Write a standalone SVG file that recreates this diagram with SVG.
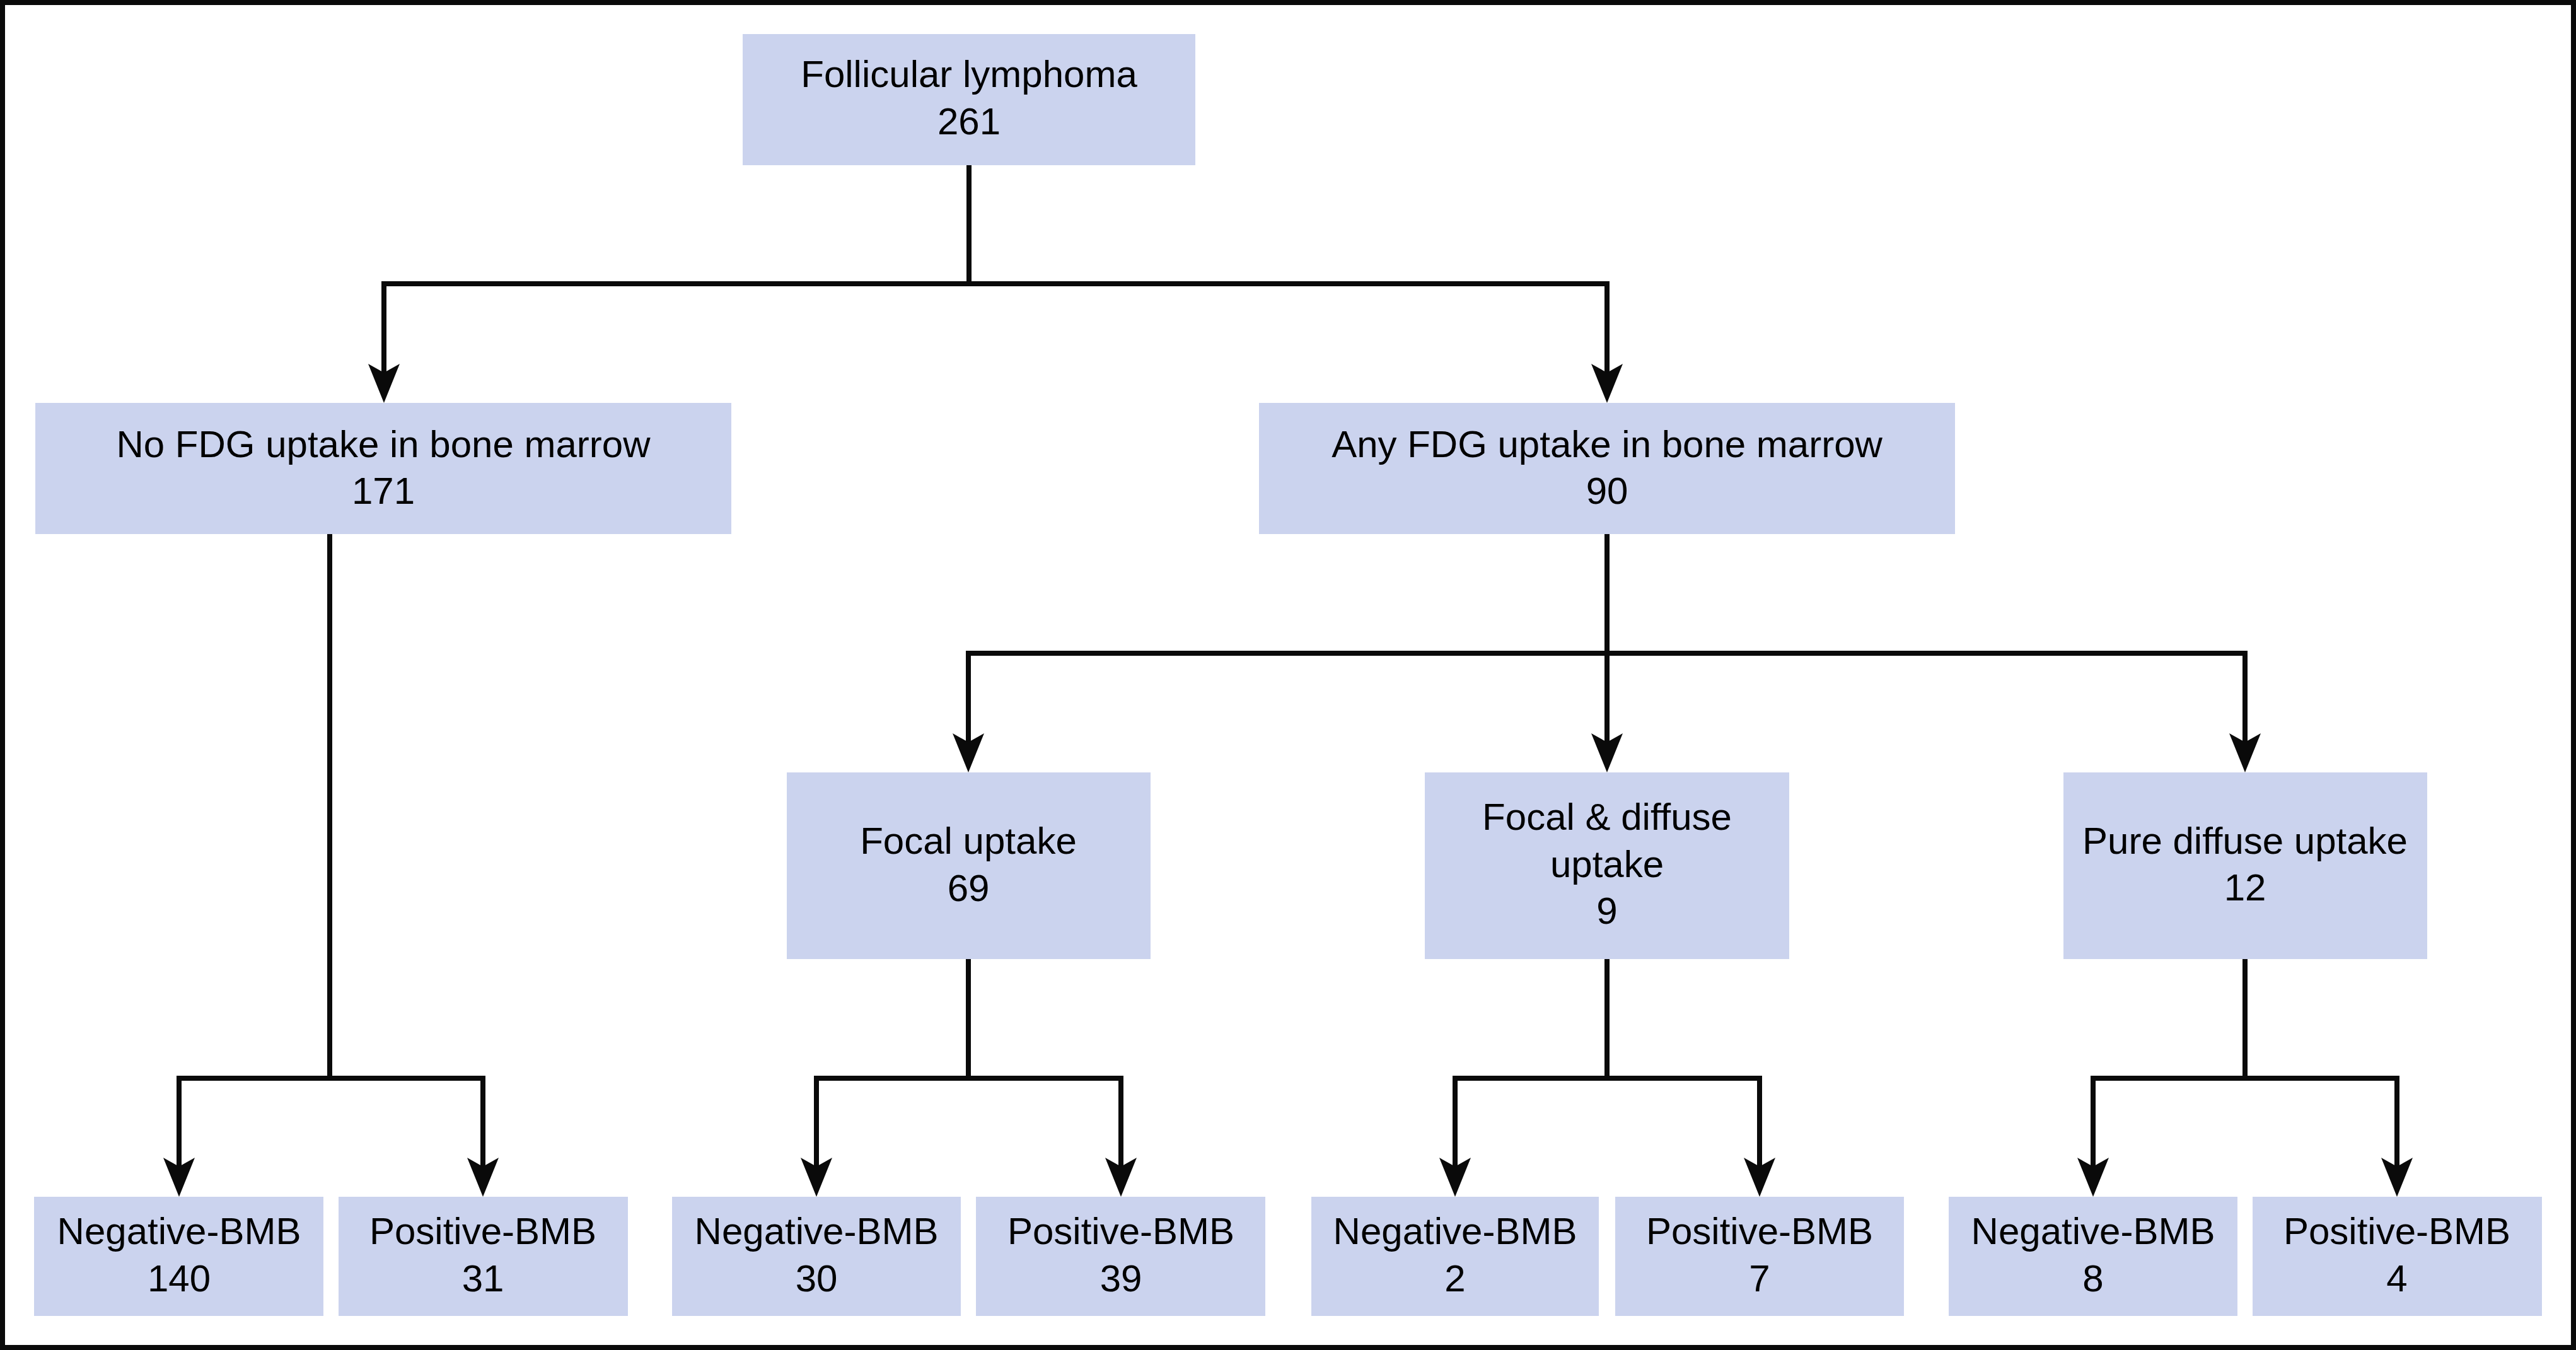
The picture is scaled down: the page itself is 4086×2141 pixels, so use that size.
<svg xmlns="http://www.w3.org/2000/svg" width="4086" height="2141" viewBox="0 0 4086 2141">
<style>
.box{fill:#cbd3ee}
.t{font-family:"Liberation Sans",Arial,Helvetica,sans-serif;font-size:60px;fill:#000;text-anchor:middle}
.c{fill:none;stroke:#0a0a0a;stroke-width:8}
.h{stroke-linecap:square}
.a{marker-end:url(#ah)}
</style>
<defs>
<marker id="ah" markerUnits="userSpaceOnUse" markerWidth="62" markerHeight="50" viewBox="0 0 62 50" refX="18" refY="25" orient="auto">
<path d="M0,0 L62,25 L0,50 L14,25 Z" fill="#0a0a0a"/>
</marker>
</defs>
<rect x="0" y="0" width="4086" height="2141" fill="#fff"/>
<rect x="4" y="4" width="4078" height="2133" fill="none" stroke="#0a0a0a" stroke-width="8"/>
<g id="connectors">
<path class="c" d="M1537,262 V450"/>
<path class="c h" d="M609,450 H2549"/>
<path class="c a" d="M609,450 V595"/>
<path class="c a" d="M2549,450 V595"/>
<path class="c" d="M2549,847 V1036"/>
<path class="c h" d="M1536,1036 H3561"/>
<path class="c a" d="M1536,1036 V1181"/>
<path class="c a" d="M2549,1036 V1181"/>
<path class="c a" d="M3561,1036 V1181"/>
<path class="c" d="M523,847 V1710"/>
<path class="c h" d="M284,1710 H766"/>
<path class="c a" d="M284,1710 V1854"/>
<path class="c a" d="M766,1710 V1854"/>
<path class="c" d="M1536,1521 V1710"/>
<path class="c h" d="M1295,1710 H1778"/>
<path class="c a" d="M1295,1710 V1854"/>
<path class="c a" d="M1778,1710 V1854"/>
<path class="c" d="M2549,1521 V1710"/>
<path class="c h" d="M2308,1710 H2791"/>
<path class="c a" d="M2308,1710 V1854"/>
<path class="c a" d="M2791,1710 V1854"/>
<path class="c" d="M3561,1520 V1710"/>
<path class="c h" d="M3320,1710 H3802"/>
<path class="c a" d="M3320,1710 V1854"/>
<path class="c a" d="M3802,1710 V1854"/>
</g>
<g id="root"><rect class="box" x="1178" y="54" width="718" height="208"/><text class="t" x="1537" y="138">Follicular lymphoma</text><text class="t" x="1537" y="213">261</text></g>
<g id="noFDG"><rect class="box" x="56" y="639" width="1104" height="208"/><text class="t" x="608" y="725">No FDG uptake in bone marrow</text><text class="t" x="608" y="799">171</text></g>
<g id="anyFDG"><rect class="box" x="1997" y="639" width="1104" height="208"/><text class="t" x="2549" y="725">Any FDG uptake in bone marrow</text><text class="t" x="2549" y="799">90</text></g>
<g id="focal"><rect class="box" x="1248" y="1225" width="577" height="296"/><text class="t" x="1536" y="1354">Focal uptake</text><text class="t" x="1536" y="1429">69</text></g>
<g id="focalDiffuse"><rect class="box" x="2260" y="1225" width="578" height="296"/><text class="t" x="2549" y="1316">Focal &amp; diffuse</text><text class="t" x="2549" y="1391">uptake</text><text class="t" x="2549" y="1465">9</text></g>
<g id="pureDiffuse"><rect class="box" x="3273" y="1225" width="577" height="296"/><text class="t" x="3561" y="1354">Pure diffuse uptake</text><text class="t" x="3561" y="1428">12</text></g>
<g id="noFDG-neg"><rect class="box" x="54" y="1898" width="459" height="189"/><text class="t" x="284" y="1973">Negative-BMB</text><text class="t" x="284" y="2048">140</text></g>
<g id="noFDG-pos"><rect class="box" x="537" y="1898" width="459" height="189"/><text class="t" x="766" y="1973">Positive-BMB</text><text class="t" x="766" y="2048">31</text></g>
<g id="focal-neg"><rect class="box" x="1066" y="1898" width="458" height="189"/><text class="t" x="1295" y="1973">Negative-BMB</text><text class="t" x="1295" y="2048">30</text></g>
<g id="focal-pos"><rect class="box" x="1548" y="1898" width="459" height="189"/><text class="t" x="1778" y="1973">Positive-BMB</text><text class="t" x="1778" y="2048">39</text></g>
<g id="fd-neg"><rect class="box" x="2080" y="1898" width="456" height="189"/><text class="t" x="2308" y="1973">Negative-BMB</text><text class="t" x="2308" y="2048">2</text></g>
<g id="fd-pos"><rect class="box" x="2562" y="1898" width="458" height="189"/><text class="t" x="2791" y="1973">Positive-BMB</text><text class="t" x="2791" y="2048">7</text></g>
<g id="pd-neg"><rect class="box" x="3091" y="1898" width="458" height="189"/><text class="t" x="3320" y="1973">Negative-BMB</text><text class="t" x="3320" y="2048">8</text></g>
<g id="pd-pos"><rect class="box" x="3573" y="1898" width="459" height="189"/><text class="t" x="3802" y="1973">Positive-BMB</text><text class="t" x="3802" y="2048">4</text></g>
</svg>
